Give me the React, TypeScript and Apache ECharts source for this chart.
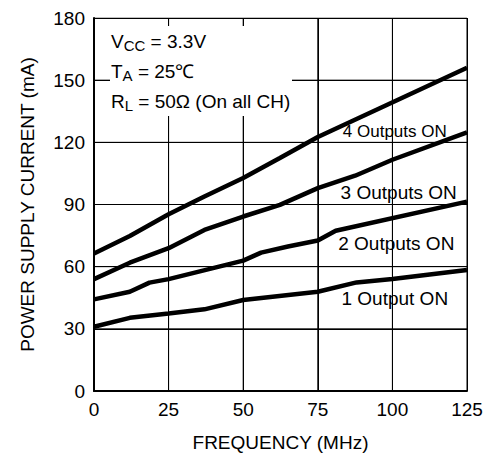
import React, { useEffect, useRef } from "react";
import * as echarts from "echarts";

const xTicks = [0, 25, 50, 75, 100, 125];
const yTicks = [0, 30, 60, 90, 120, 150, 180];

const oneOutput = [[0, 31], [12, 35.3], [25, 37.4], [37, 39.4], [50, 43.9], [75, 47.9], [88, 52.4], [100, 54], [125, 58.4]];
const twoOutputs = [[0, 44.2], [12, 47.9], [18.6, 52.3], [25, 54], [50, 62.9], [56, 66.8], [65, 69.7], [75, 72.6], [81, 77.3], [125, 91.4]];
const threeOutputs = [[0, 54], [12, 61.9], [25, 68.9], [37, 77.7], [50, 84.2], [62.3, 89.8], [75, 97.9], [87.5, 103.9], [100, 111.6], [125, 124.8]];
const fourOutputs = [[0, 66.4], [12, 74.8], [25, 85.3], [37, 93.9], [50, 102.8], [62.3, 112.4], [75, 122.6], [125, 156]];

const seriesNames = ["1 Output ON", "2 Outputs ON", "3 Outputs ON", "4 Outputs ON"];
const labelCoords = [[100.8, 44.8], [101.3, 71], [102.1, 95.6], [100.8, 125.2]];
const conditionLines = ["{n|V}{s|CC}{n| = 3.3V}", "{n|T}{s|A}{n| = 25℃}", "{n|R}{s|L}{n| = 50Ω (On all CH)}"];

const FONT = "Liberation Sans, Arial, sans-serif";

const richStyles = {
  n: { fontSize: 19, fontFamily: FONT, color: "#000", lineHeight: 22, verticalAlign: "middle" },
  s: { fontSize: 15, fontFamily: FONT, color: "#000", lineHeight: 22, verticalAlign: "bottom", padding: [0, 0, -1, 0] },
};

export default function App() {
  const ref = useRef<HTMLDivElement>(null);
  useEffect(() => {
    document.body.style.margin = "0";
    if (!ref.current) return;
    const chart = echarts.init(ref.current, null, { renderer: "svg" });
    const all = [oneOutput, twoOutputs, threeOutputs, fourOutputs];
    const xMin = xTicks[0];
    const xMax = xTicks[xTicks.length - 1];
    const yMin = yTicks[0];
    const yMax = yTicks[yTicks.length - 1];
    const gridSeries = [
      ...xTicks.filter((v) => v !== xMin).map((v) => [[v, yMin], [v, yMax]]),
      ...yTicks.filter((v) => v !== yMin).map((v) => [[xMin, v], [xMax, v]]),
    ].map((d) => ({
      type: "line",
      z: 1,
      silent: true,
      data: d,
      showSymbol: false,
      symbol: "none",
      lineStyle: { color: "#000", width: 1 },
      emphasis: { disabled: true },
    }));
    chart.setOption({
      animation: false,
      grid: { left: 94, right: 20, top: 18, bottom: 73 },
      xAxis: {
        type: "value",
        min: xMin,
        max: xMax,
        interval: 25,
        name: "FREQUENCY (MHz)",
        nameLocation: "middle",
        nameGap: 42,
        nameTextStyle: { color: "#000", fontSize: 19, fontFamily: FONT },
        axisLine: { show: true, onZero: false, lineStyle: { color: "#000", width: 2 } },
        axisTick: { show: false },
        axisLabel: { color: "#000", fontSize: 19, margin: 9, fontFamily: FONT },
        splitLine: { show: true, lineStyle: { color: "#000", width: 1 } },
      },
      yAxis: {
        type: "value",
        min: yMin,
        max: yMax,
        interval: 30,
        name: "POWER SUPPLY CURRENT (mA)",
        nameLocation: "middle",
        nameGap: 57,
        nameTextStyle: { color: "#000", fontSize: 19, fontFamily: FONT },
        axisLine: { show: true, onZero: false, lineStyle: { color: "#000", width: 2 } },
        axisTick: { show: false },
        axisLabel: { color: "#000", fontSize: 19, margin: 9, fontFamily: FONT },
        splitLine: { show: true, lineStyle: { color: "#000", width: 1 } },
      },
      graphic: conditionLines.map((t, i) => ({
        type: "text",
        z: 20,
        x: 110,
        y: 41 + i * 30,
        style: {
          text: t,
          verticalAlign: "middle",
          width: 180,
          backgroundColor: "#fff",
          padding: [4, 1, 4, 1],
          rich: richStyles,
        },
      })),
      series: [
        ...gridSeries,
        ...all.map((d, i) => ({
          type: "line",
          name: seriesNames[i],
          z: 3,
          data: d,
          showSymbol: false,
          symbol: "none",
          lineStyle: { color: "#000", width: 4.5 },
          markPoint: {
            symbol: "circle",
            symbolSize: 0,
            silent: true,
            label: {
              show: true,
              position: "inside",
              formatter: seriesNames[i],
              color: "#000",
              fontSize: i === 3 ? 17 : 19,
              fontFamily: FONT,
            },
            data: [{ coord: labelCoords[i] }],
          },
        })),
      ],
    });
    return () => chart.dispose();
  }, []);
  return <div ref={ref} style={{ width: 487, height: 464 }} />;
}
